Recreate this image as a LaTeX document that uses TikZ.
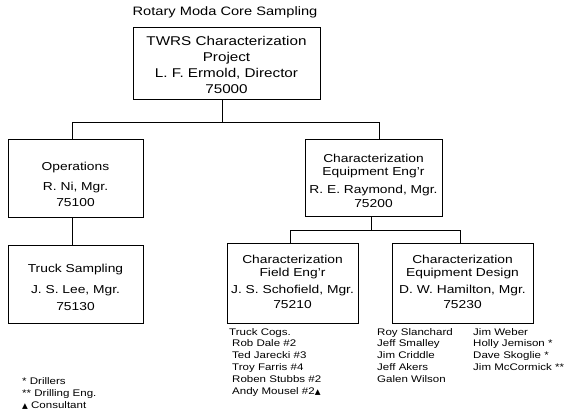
\documentclass[tikz,border=0pt]{standalone}
\usepackage{fontspec}
\setmainfont{Liberation Sans}[FakeStretch=1.2]
\newfontfamily\symfont{DejaVu Sans}
\begin{document}
\begin{tikzpicture}[x=1pt,y=-1pt,
  box/.style={draw, line width=0.8pt, inner sep=0pt},
  txt/.style={inner sep=0pt, anchor=mid, font=\fontsize{11.5}{14}\selectfont},
  big/.style={inner sep=0pt, anchor=mid, font=\fontsize{12.7}{15}\selectfont},
  conn/.style={line width=0.8pt},
  lst/.style={inner sep=0pt, anchor=north west, align=left, font=\fontsize{9.6}{11.8}\selectfont}]
\useasboundingbox (0,0) rectangle (583,418);
% title
\node[inner sep=0pt, anchor=mid, font=\fontsize{12.2}{14}\selectfont] (title) at (225,13) {Rotary Moda Core Sampling};
% boxes
\node[box, minimum width=187pt, minimum height=72pt] (top) at (226.5,63) {};
\node[box, minimum width=135pt, minimum height=78pt] (ops) at (75.5,178) {};
\node[box, minimum width=135pt, minimum height=78pt] (truck) at (75.5,284) {};
\node[box, minimum width=137pt, minimum height=77pt] (ceng) at (373.5,177.5) {};
\node[box, minimum width=131pt, minimum height=80pt] (field) at (292.5,283) {};
\node[box, minimum width=141pt, minimum height=80pt] (design) at (462.5,283) {};
% box texts
\node[big] (top1) at (226.5,43) {TWRS Characterization};
\node[big] (top2) at (226.5,59) {Project};
\node[big] (top3) at (226.5,75) {L. F. Ermold, Director};
\node[big] (top4) at (226.5,91) {75000};
\node[txt] (ops1) at (75.5,168) {Operations};
\node[txt] (ops2) at (75.5,188) {R. Ni, Mgr.};
\node[txt] (ops3) at (75.5,204) {75100};
\node[txt] (truck1) at (75.5,270) {Truck Sampling};
\node[txt] (truck2) at (75.5,291) {J. S. Lee, Mgr.};
\node[txt] (truck3) at (75.5,308) {75130};
\node[txt] (ceng1) at (373.5,160) {Characterization};
\node[txt] (ceng2) at (373.5,173) {Equipment Eng'r};
\node[txt] (ceng3) at (373.5,190.5) {R. E. Raymond, Mgr.};
\node[txt] (ceng4) at (373.5,205) {75200};
\node[txt] (field1) at (292.5,261) {Characterization};
\node[txt] (field2) at (292.5,274) {Field Eng'r};
\node[txt] (field3) at (292.5,291) {J. S. Schofield, Mgr.};
\node[txt] (field4) at (292.5,306) {75210};
\node[txt] (design1) at (462.5,261) {Characterization};
\node[txt] (design2) at (462.5,274) {Equipment Design};
\node[txt] (design3) at (462.5,291) {D. W. Hamilton, Mgr.};
\node[txt] (design4) at (462.5,306) {75230};
% connectors
\draw[conn] ([xshift=-4.5pt]top.south) -- ++(0,23) coordinate (j1);
\draw[conn] ([xshift=-3.5pt]ops.north) |- (j1) -| ([xshift=5.5pt]ceng.north);
\draw[conn] ([xshift=-3.5pt]ops.south) -- ([xshift=-3.5pt]truck.north);
\draw[conn] ([xshift=-2.5pt]ceng.south) -- ++(0,14) coordinate (j2);
\draw[conn] ([xshift=-2.5pt]field.north) |- (j2) -| ([xshift=-2.5pt]design.north);
% lists
\node[lst] (crew) at (229,328) {Truck Cogs.\\
  \hspace{3pt}Rob Dale \#2\\
  \hspace{3pt}Ted Jarecki \#3\\
  \hspace{3pt}Troy Farris \#4\\
  \hspace{3pt}Roben Stubbs \#2\\
  \hspace{3pt}Andy Mousel \#2{\symfont\fontsize{7.5}{11}\selectfont ▲}};
\node[lst] (col1) at (377,328) {Roy Slanchard\\Jeff Smalley\\Jim Criddle\\Jeff Akers\\Galen Wilson};
\node[lst] (col2) at (473,328) {Jim Weber\\Holly Jemison *\\Dave Skoglie *\\Jim McCormick **};
\node[lst, font=\fontsize{9.6}{12}\selectfont] (legend) at (22,377) {* Drillers\\** Drilling Eng.\\{\symfont\fontsize{7.5}{10}\selectfont ▲} Consultant};
\end{tikzpicture}
\end{document}
